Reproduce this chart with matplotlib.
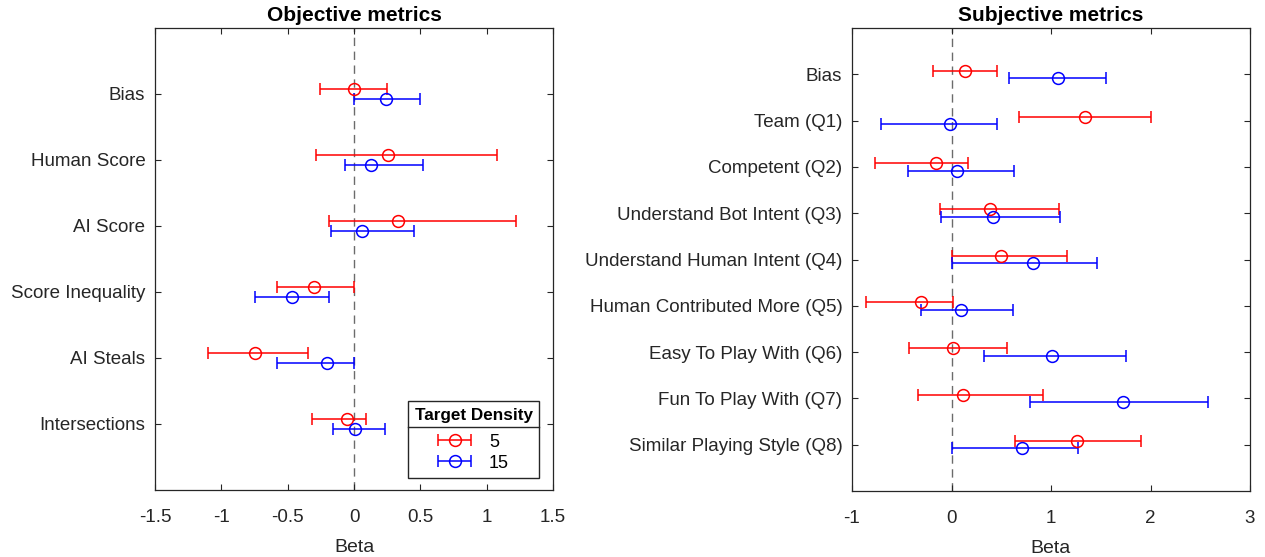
import matplotlib
matplotlib.use("Agg")
import matplotlib.pyplot as plt
import numpy as np
from matplotlib.lines import Line2D
from matplotlib.legend_handler import HandlerErrorbar
from matplotlib.container import ErrorbarContainer

plt.rcParams['font.family'] = ['Liberation Sans', 'DejaVu Sans']

# ---------------- data ----------------
obj_labels = ["Bias", "Human Score", "AI Score", "Score Inequality", "AI Steals", "Intersections"]
obj_d5_mean = [0.00, 0.26, 0.33, -0.30, -0.75, -0.05]
obj_d5_lo = [-0.26, -0.29, -0.19, -0.58, -1.10, -0.32]
obj_d5_hi = [0.25, 1.08, 1.22, 0.00, -0.35, 0.09]
obj_d15_mean = [0.24, 0.13, 0.06, -0.47, -0.20, 0.01]
obj_d15_lo = [0.00, -0.07, -0.17, -0.75, -0.58, -0.16]
obj_d15_hi = [0.50, 0.52, 0.45, -0.19, 0.00, 0.23]

subj_labels = ["Bias", "Team (Q1)", "Competent (Q2)", "Understand Bot Intent (Q3)",
               "Understand Human Intent (Q4)", "Human Contributed More (Q5)",
               "Easy To Play With (Q6)", "Fun To Play With (Q7)", "Similar Playing Style (Q8)"]
subj_d5_mean = [0.14, 1.34, -0.16, 0.39, 0.50, -0.31, 0.02, 0.12, 1.26]
subj_d5_lo = [-0.19, 0.68, -0.77, -0.12, 0.00, -0.86, -0.43, -0.34, 0.64]
subj_d5_hi = [0.46, 2.01, 0.17, 1.08, 1.16, 0.02, 0.56, 0.92, 1.90]
subj_d15_mean = [1.07, -0.02, 0.06, 0.42, 0.82, 0.10, 1.01, 1.72, 0.71]
subj_d15_lo = [0.58, -0.71, -0.44, -0.11, 0.00, -0.31, 0.33, 0.79, 0.00]
subj_d15_hi = [1.55, 0.46, 0.63, 1.09, 1.46, 0.62, 1.75, 2.58, 1.27]

density_labels = ["5", "15"]

obj_xticks = [-1.5, -1, -0.5, 0, 0.5, 1, 1.5]
obj_xticklabels = ["-1.5", "-1", "-0.5", "0", "0.5", "1", "1.5"]
subj_xticks = [-1, 0, 1, 2, 3]
subj_xticklabels = ["-1", "0", "1", "2", "3"]

# ---------------- style ----------------
AXC = (0.15, 0.15, 0.15)
FS = 13.5
OFF = 0.08

fig = plt.figure(figsize=(12.65, 5.57), dpi=100)
axL = fig.add_axes([155/1265, 67/557, 398/1265, 462/557])
axR = fig.add_axes([852/1265, 66/557, 398/1265, 463/557])


def draw(ax, labels, m5, lo5, hi5, m15, lo15, hi15, xlim, xt, xtl, title):
    n = len(labels)
    y = np.arange(1, n + 1)
    m5 = np.array(m5); m15 = np.array(m15)
    e5 = [m5 - np.array(lo5), np.array(hi5) - m5]
    e15 = [m15 - np.array(lo15), np.array(hi15) - m15]
    ax.axvline(0, color=(0.42, 0.42, 0.42), linestyle=(0, (6, 4)), linewidth=1.0, zorder=1)
    h1 = ax.errorbar(m5, y - OFF, xerr=e5, fmt='o', color=(1, 0, 0), mfc='none',
                     markersize=8.5, mew=1.1, elinewidth=1.1, capsize=4, capthick=1.1, zorder=3)
    h2 = ax.errorbar(m15, y + OFF, xerr=e15, fmt='o', color=(0, 0, 1), mfc='none',
                     markersize=8.5, mew=1.1, elinewidth=1.1, capsize=4, capthick=1.1, zorder=3)
    ax.set_ylim(n + 1, 0)
    ax.set_xlim(*xlim)
    ax.set_yticks(y)
    ax.set_yticklabels(labels)
    ax.set_xticks(xt)
    ax.set_xticklabels(xtl)
    ax.tick_params(direction='in', top=True, right=True, length=4, width=0.8,
                   colors=AXC, labelsize=FS)
    ax.tick_params(axis='y', pad=7)
    ax.tick_params(axis='x', pad=14)
    for s in ax.spines.values():
        s.set_color(AXC)
        s.set_linewidth(0.9)
    ax.set_xlabel("Beta", fontsize=FS + 0.5, color=AXC, labelpad=9)
    ax.set_title(title, fontsize=15, fontweight='bold', color='black', pad=5)
    return h1, h2


h1, h2 = draw(axL, obj_labels, obj_d5_mean, obj_d5_lo, obj_d5_hi,
              obj_d15_mean, obj_d15_lo, obj_d15_hi, (-1.5, 1.5),
              obj_xticks, obj_xticklabels, "Objective metrics")
draw(axR, subj_labels, subj_d5_mean, subj_d5_lo, subj_d5_hi,
     subj_d15_mean, subj_d15_lo, subj_d15_hi, (-1, 3),
     subj_xticks, subj_xticklabels, "Subjective metrics")

leg = axL.legend([h1, h2], density_labels, title="Target Density",
                 loc='lower right', bbox_to_anchor=(0.965, 0.026), borderaxespad=0,
                 fancybox=False, edgecolor=AXC, fontsize=13, title_fontsize=12.3,
                 handlelength=1.8, handletextpad=1.0, borderpad=0.35, labelspacing=0.22,
                 handler_map={ErrorbarContainer: HandlerErrorbar(xerr_size=0.9)})
leg.get_title().set_fontweight('bold')
leg.get_frame().set_linewidth(1.0)
leg.get_frame().set_alpha(1)
leg._legend_box.sep = 8

fig.canvas.draw()
fb = leg.get_frame().get_window_extent()
tb = leg.get_title().get_window_extent()
ysep = tb.y0 - 4
inv = fig.transFigure.inverted()
(x0, y0) = inv.transform((fb.x0, ysep))
(x1, _) = inv.transform((fb.x1, ysep))
fig.add_artist(Line2D([x0, x1], [y0, y0], color=AXC, linewidth=1.0, transform=fig.transFigure))

fig.savefig("out.png", dpi=100)
